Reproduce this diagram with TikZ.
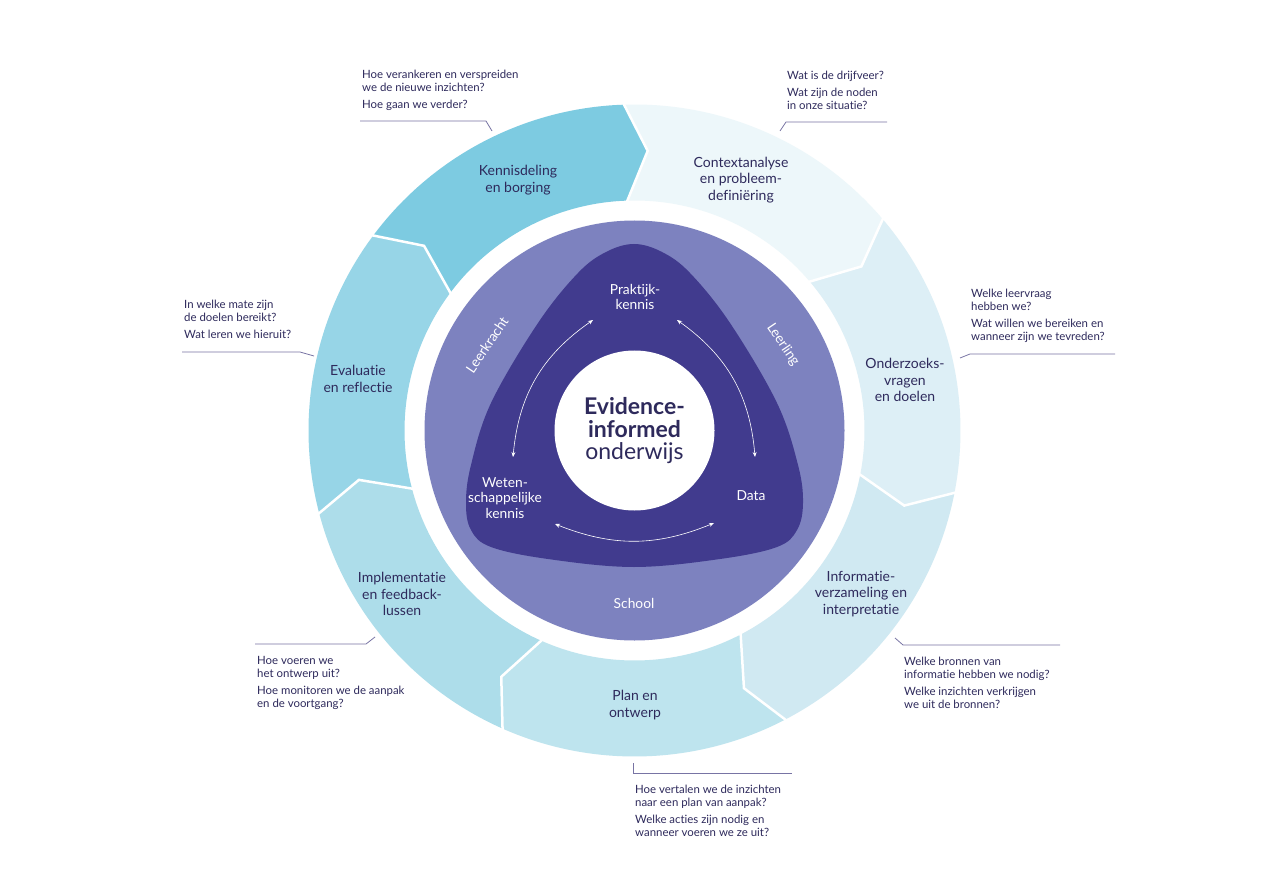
\documentclass[tikz,border=0pt]{standalone}
\usepackage{fontspec}
\setmainfont{Lato}[Ligatures={CommonOff,ContextualOff,RequiredOff}]
\usetikzlibrary{calc,arrows.meta}
\definecolor{segA}{HTML}{EDF7FA}
\definecolor{segB}{HTML}{DDEFF6}
\definecolor{segC}{HTML}{D0E9F2}
\definecolor{segD}{HTML}{BEE4EE}
\definecolor{segE}{HTML}{ADDDEA}
\definecolor{segF}{HTML}{97D5E7}
\definecolor{segG}{HTML}{7DCBE1}
\definecolor{purL}{HTML}{7D82BF}
\definecolor{purD}{HTML}{413B8E}
\definecolor{navy}{HTML}{2E2A5C}
\definecolor{leadc}{HTML}{7874A4}
\begin{document}
\begin{tikzpicture}[x=1pt,y=1pt,
  seglabel/.style={font=\fontsize{14}{16.5}\selectfont, text=navy, align=center, inner sep=0},
  question/.style={font=\fontsize{11.4}{13}\selectfont, text=navy, align=left, anchor=north west, inner sep=0},
  innerlabel/.style={font=\fontsize{13.8}{15.5}\selectfont, text=white, align=center, inner sep=0},
  leader/.style={draw=leadc, line width=0.8},
  cycarrow/.style={draw=white, line width=0.6, {Stealth[length=5pt,width=4pt]}-{Stealth[length=5pt,width=4pt]}}
]
\useasboundingbox (0,-882) rectangle (1279,0);
\fill[white] (0,-882) rectangle (1279,0);
\coordinate (C) at (634.5,-430.5);

% ring segments
\foreach \s/\col in {92/segA, 40.5714/segB, -10.8571/segC, -62.2857/segD, -113.7143/segE, -165.1429/segF, 143.4286/segG}{
  \pgfmathsetmacro\e{\s-51.4286}
  \pgfmathsetmacro\ti{\e-4.7}
  \pgfmathsetmacro\si{\s-4.7}
  \fill[\col] ($(C)+(\s:326)$) arc[start angle=\s, end angle=\e, radius=326]
    -- ($(C)+(\ti:280)$) -- ($(C)+(\e:230)$)
    arc[start angle=\e, end angle=\s, radius=230]
    -- ($(C)+(\si:280)$) -- cycle;
}
\foreach \b in {92, 40.5714, -10.8571, -62.2857, -113.7143, -165.1429, 143.4286}{
  \pgfmathsetmacro\bt{\b-4.7}
  \draw[white, line width=2.5, line join=miter] ($(C)+(\b:328)$) -- ($(C)+(\bt:280)$) -- ($(C)+(\b:228)$);
}

% purple disc, triangle, white centre
\fill[purL] (C) circle[radius=210];
\fill[purD] plot[smooth cycle, tension=0.6] coordinates {
  (634,-244) (662,-252) (690,-273) (730,-323) (777,-403) (798,-465) (803,-503) (797,-530) (777,-547)
  (720,-559) (634,-567) (548,-559) (491,-547) (471,-530) (466,-503) (471,-465) (491,-403) (538,-323)
  (578,-273) (606,-252)};
\fill[white] (C) circle[radius=80];

% centre title
\node[font=\fontsize{23}{22.5}\selectfont, text=navy, align=center, inner sep=0] (title) at (634.5,-431)
  {\textbf{Evidence-}\\\textbf{informed}\\onderwijs};

% inner labels
\node[innerlabel] (prak) at (635,-297) {Praktijk-\\kennis};
\node[innerlabel] (weten) at (505,-498) {Weten-\\schappelijke\\kennis};
\node[innerlabel] (data) at (751,-496) {Data};
\node[innerlabel] (school) at (634,-603) {School};
\node[innerlabel, rotate=56] (leerkracht) at (487,-345) {Leerkracht};
\node[innerlabel, rotate=-56] (leerling) at (783,-345) {Leerling};

% arrows
\coordinate (a1) at (593,-320); \coordinate (a2) at (513,-457);
\coordinate (b1) at (677,-320); \coordinate (b2) at (755,-457);
\coordinate (d1) at (555,-524); \coordinate (d2) at (714,-523);
\draw[cycarrow] (a1) to[bend right=25] (a2);
\draw[cycarrow] (b1) to[bend left=25] (b2);
\draw[cycarrow] (d1) to[bend right=22] (d2);

% segment labels
\node[seglabel] (s1) at (741,-180) {Contextanalyse\\en probleem-\\definiëring};
\node[seglabel] (s2) at (905,-380) {Onderzoeks-\\vragen\\en doelen};
\node[seglabel] (s3) at (861,-594) {Informatie-\\verzameling en\\interpretatie};
\node[seglabel] (s4) at (635,-705) {Plan en\\ontwerp};
\node[seglabel] (s5) at (402,-594) {Implementatie\\en feedback-\\lussen};
\node[seglabel] (s6) at (358,-379) {Evaluatie\\en reflectie};
\node[seglabel] (s7) at (518,-180) {Kennisdeling\\en borging};

% questions
\node[question] (q7) at (362,-69.5) {Hoe verankeren en verspreiden\\we de nieuwe inzichten?\\[4pt]Hoe gaan we verder?};
\node[question] (q1) at (787,-70.5) {Wat is de drijfveer?\\[4pt]Wat zijn de noden\\in onze situatie?};
\node[question] (q6) at (184,-299.5) {In welke mate zijn\\de doelen bereikt?\\[4pt]Wat leren we hieruit?};
\node[question] (q2) at (971,-288.5) {Welke leervraag\\hebben we?\\[4pt]Wat willen we bereiken en\\wanneer zijn we tevreden?};
\node[question] (q5) at (257,-656.5) {Hoe voeren we\\het ontwerp uit?\\[4pt]Hoe monitoren we de aanpak\\en de voortgang?};
\node[question] (q3) at (904,-656.5) {Welke bronnen van\\informatie hebben we nodig?\\[4pt]Welke inzichten verkrijgen\\we uit de bronnen?};
\node[question] (q4) at (635,-784.5) {Hoe vertalen we de inzichten\\naar een plan van aanpak?\\[4pt]Welke acties zijn nodig en\\wanneer voeren we ze uit?};

% leader lines
\coordinate (l7a) at (360,-121); \coordinate (l7b) at (486,-121); \coordinate (l7c) at (492,-131);
\coordinate (l1a) at (780,-131); \coordinate (l1b) at (786,-122); \coordinate (l1c) at (887,-122);
\coordinate (l6a) at (182,-352); \coordinate (l6b) at (300,-352); \coordinate (l6c) at (314,-356);
\coordinate (l2a) at (960,-358); \coordinate (l2b) at (970,-354); \coordinate (l2c) at (1115,-354);
\coordinate (l5a) at (255,-644); \coordinate (l5b) at (366,-644); \coordinate (l5c) at (375,-637);
\coordinate (l3a) at (895,-638); \coordinate (l3b) at (903,-645); \coordinate (l3c) at (1060,-645);
\coordinate (l4a) at (633,-763); \coordinate (l4b) at (633,-773); \coordinate (l4c) at (792,-773);
\draw[leader] (l7a) -- (l7b) -- (l7c);
\draw[leader] (l1a) -- (l1b) -- (l1c);
\draw[leader] (l6a) -- (l6b) -- (l6c);
\draw[leader] (l2a) -- (l2b) -- (l2c);
\draw[leader] (l5a) -- (l5b) -- (l5c);
\draw[leader] (l3a) -- (l3b) -- (l3c);
\draw[leader] (l4a) -- (l4b) -- (l4c);
\end{tikzpicture}
\end{document}
